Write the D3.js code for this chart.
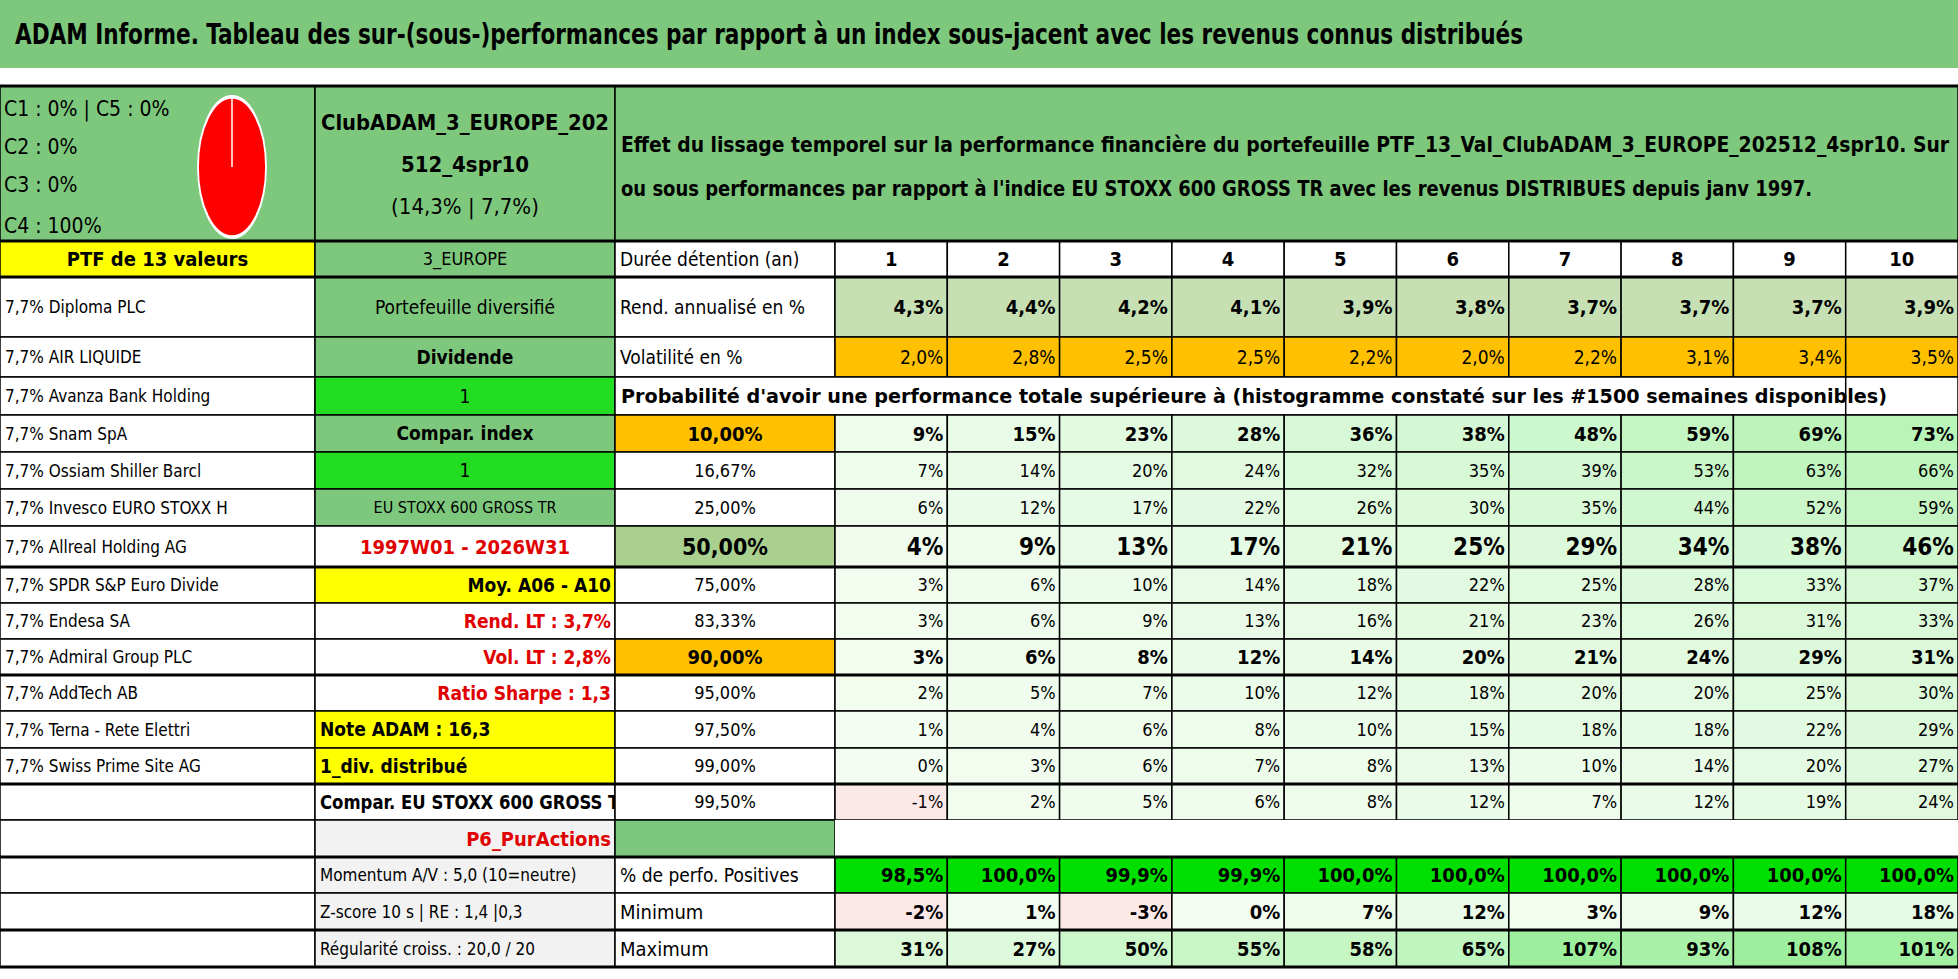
<!DOCTYPE html>
<html><head><meta charset="utf-8">
<script src="https://cdn.jsdelivr.net/npm/d3@7"></script>
<style>body{margin:0;background:#fff}svg{display:block}text{font-family:"DejaVu Sans Condensed","DejaVu Sans",sans-serif}</style>
</head><body><svg id="c" width="1958" height="979"></svg>
<script>
const title = "ADAM Informe. Tableau des sur-(sous-)performances par rapport à un index sous-jacent avec les revenus connus distribués";
const holdings = ["7,7% Diploma PLC","7,7% AIR LIQUIDE","7,7% Avanza Bank Holding","7,7% Snam SpA","7,7% Ossiam Shiller Barcl","7,7% Invesco EURO STOXX H","7,7% Allreal Holding AG","7,7% SPDR S&P Euro Divide","7,7% Endesa SA","7,7% Admiral Group PLC","7,7% AddTech AB","7,7% Terna - Rete Elettri","7,7% Swiss Prime Site AG"];
const years = [1,2,3,4,5,6,7,8,9,10];
const rendement = [4.3,4.4,4.2,4.1,3.9,3.8,3.7,3.7,3.7,3.9];
const volatilite = [2.0,2.8,2.5,2.5,2.2,2.0,2.2,3.1,3.4,3.5];
const seuils = ["10,00%","16,67%","25,00%","50,00%","75,00%","83,33%","90,00%","95,00%","97,50%","99,00%","99,50%"];
const probas = [
 [9,15,23,28,36,38,48,59,69,73],
 [7,14,20,24,32,35,39,53,63,66],
 [6,12,17,22,26,30,35,44,52,59],
 [4,9,13,17,21,25,29,34,38,46],
 [3,6,10,14,18,22,25,28,33,37],
 [3,6,9,13,16,21,23,26,31,33],
 [3,6,8,12,14,20,21,24,29,31],
 [2,5,7,10,12,18,20,20,25,30],
 [1,4,6,8,10,15,18,18,22,29],
 [0,3,6,7,8,13,10,14,20,27],
 [-1,2,5,6,8,12,7,12,19,24]];
const positives = [98.5,100,99.9,99.9,100,100,100,100,100,100];
const minimum = [-2,1,-3,0,7,12,3,9,12,18];
const maximum = [31,27,50,55,58,65,107,93,108,101];
const pieLabels = ["C1 : 0% | C5 : 0%","C2 : 0%","C3 : 0%","C4 : 100%"];
const pieValues = [0,0,0,100,0];

const svg = d3.select("#c");
const G="#7ec87e", Y="#ffff00", O="#ffc000", BG="#22dd22", GR="#f2f2f2";
const fmt1 = v => d3.format(".1f")(v).replace(".",",")+"%";
const fmt0 = v => v+"%";
const green = d3.scaleLinear().domain([0,110]).range(["#f4fdf2","#9bef9b"]);
const cellColor = v => v<0 ? "#fde8e8" : green(v);

const vx = d3.scaleBand().domain(years).range([835,1958]);
const rowB = [86,241,277,337,377,415,452,489,526,567,603,639,675,711,748,784,820,857,893,930,967];

function cell(x,y,w,h,fill,txt,opt={}){
  svg.append("rect").attr("x",x).attr("y",y).attr("width",w).attr("height",h)
    .attr("fill",fill).attr("stroke",opt.noStroke?"none":"#000").attr("stroke-width",opt.sw||1.5);
  if(txt!==undefined&&txt!==null){
    const a=opt.align||"middle";
    const tx=a==="start"?x+5:a==="end"?x+w-4:x+w/2;
    svg.append("text").attr("x",tx).attr("y",y+h/2).attr("dy","0.36em").attr("text-anchor",a)
      .attr("font-size",opt.fs||19).attr("font-weight",opt.bold?"bold":"normal")
      .attr("fill",opt.color||"#000").text(txt);
  }
}
function fitText(x,y,len,fs,bold,t){
  svg.append("text").attr("x",x).attr("y",y).attr("font-size",fs).attr("font-weight",bold?"bold":"normal")
   .attr("textLength",len).attr("lengthAdjust","spacingAndGlyphs").text(t);
}
svg.append("rect").attr("x",0).attr("y",0).attr("width",1958).attr("height",68).attr("fill",G);
fitText(15,44,1508,29,true,title);

const R=i=>rowB[i], H=i=>rowB[i+1]-rowB[i];
cell(0,R(0),315,H(0),G,null);
pieLabels.forEach((t,i)=>svg.append("text").attr("x",4).attr("y",[116,154,192,233][i]).attr("font-size",21).text(t));
const pie=d3.pie().sort(null).value(d=>d)(pieValues);
const pg=svg.append("g").attr("transform","translate(232,167) scale(1,2.06)");
pg.selectAll("path").data(pie).join("path").attr("d",d3.arc().innerRadius(0).outerRadius(34))
  .attr("fill",(d,i)=>i===3?"#ff0000":"#ccc");
pg.append("circle").attr("r",34).attr("fill","none").attr("stroke","#fff").attr("stroke-width",1.8);
pg.append("line").attr("x1",0).attr("y1",0).attr("x2",0).attr("y2",-34).attr("stroke","#fff").attr("stroke-width",1.5);
cell(315,R(0),300,H(0),G,null);
["ClubADAM_3_EUROPE_202","512_4spr10","(14,3% | 7,7%)"].forEach((t,i)=>svg.append("text").attr("x",465).attr("y",130+i*42).attr("text-anchor","middle").attr("font-size",22).attr("font-weight",i<2?"bold":"normal").attr("textLength",i===0?288:null).attr("lengthAdjust","spacingAndGlyphs").text(t));
cell(615,R(0),1343,H(0),G,null);
fitText(621,152,1328,22,true,"Effet du lissage temporel sur la performance financière du portefeuille PTF_13_Val_ClubADAM_3_EUROPE_202512_4spr10. Sur");
fitText(621,196,1191,22,true,"ou sous performances par rapport à l'indice EU STOXX 600 GROSS TR avec les revenus DISTRIBUES depuis janv 1997.");

cell(0,R(1),315,H(1),Y,"PTF de 13 valeurs",{bold:true,fs:20});
cell(315,R(1),300,H(1),G,"3_EUROPE",{fs:18});
cell(615,R(1),220,H(1),"#fff","Durée détention (an)",{align:"start",fs:19});
years.forEach(y=>cell(vx(y),R(1),vx.bandwidth(),H(1),"#fff",String(y),{bold:true,fs:20}));

holdings.forEach((h,i)=>cell(0,R(2+i),315,H(2+i),"#fff",h,{align:"start",fs:17}));
for(let r=15;r<20;r++) cell(0,R(r),315,H(r),"#fff",null);

const col1=[
 ["Portefeuille diversifié",G,"middle",false,"#000",19],
 ["Dividende",G,"middle",true,"#000",19],
 ["1",BG,"middle",false,"#000",19],
 ["Compar. index",G,"middle",true,"#000",19],
 ["1",BG,"middle",false,"#000",19],
 ["EU STOXX 600 GROSS TR",G,"middle",false,"#000",16],
 ["1997W01 - 2026W31","#fff","middle",true,"#e00000",20],
 ["Moy. A06 - A10",Y,"end",true,"#000",19],
 ["Rend. LT : 3,7%","#fff","end",true,"#e00000",19],
 ["Vol. LT : 2,8%","#fff","end",true,"#e00000",19],
 ["Ratio Sharpe : 1,3","#fff","end",true,"#e00000",19],
 ["Note ADAM : 16,3",Y,"start",true,"#000",19],
 ["1_div. distribué",Y,"start",true,"#000",19],
 ["Compar. EU STOXX 600 GROSS TR","#fff","start",true,"#000",19],
 ["P6_PurActions",GR,"end",true,"#e00000",20],
 ["Momentum A/V : 5,0 (10=neutre)",GR,"start",false,"#000",17],
 ["Z-score 10 s | RE : 1,4 |0,3",GR,"start",false,"#000",17],
 ["Régularité croiss. : 20,0 / 20",GR,"start",false,"#000",17]];
svg.append("clipPath").attr("id","cl1").append("rect").attr("x",315).attr("y",0).attr("width",300).attr("height",979);
col1.forEach((c,i)=>{
  const r=2+i;
  svg.append("rect").attr("x",315).attr("y",R(r)).attr("width",300).attr("height",H(r)).attr("fill",c[1]).attr("stroke","#000").attr("stroke-width",1.5);
  const tx=c[2]==="start"?320:c[2]==="end"?611:465;
  const t=svg.append("text").attr("clip-path","url(#cl1)").attr("x",tx).attr("y",R(r)+H(r)/2).attr("dy","0.36em").attr("text-anchor",c[2])
   .attr("font-size",c[5]).attr("font-weight",c[3]?"bold":"normal").attr("fill",c[4]).text(c[0]);
  if(i===13) t.attr("textLength",312).attr("lengthAdjust","spacingAndGlyphs");
});

cell(615,R(2),220,H(2),"#fff","Rend. annualisé en %",{align:"start"});
rendement.forEach((v,i)=>cell(vx(years[i]),R(2),vx.bandwidth(),H(2),"#c6e0b4",fmt1(v),{align:"end",bold:true,fs:20}));
cell(615,R(3),220,H(3),"#fff","Volatilité en %",{align:"start"});
volatilite.forEach((v,i)=>cell(vx(years[i]),R(3),vx.bandwidth(),H(3),O,fmt1(v),{align:"end",fs:19}));
cell(615,R(4),1343,H(4),"#fff",null);
fitText(621,R(4)+H(4)/2+7,1266,19,true,"Probabilité d'avoir une performance totale supérieure à (histogramme constaté sur les #1500 semaines disponibles)");
svg.append("line").attr("x1",vx(10)).attr("x2",vx(10)).attr("y1",R(4)).attr("y2",R(5)).attr("stroke","#000").attr("stroke-width",1.5);
const boldRows=[0,3,6];
seuils.forEach((s,k)=>{
  const r=5+k, b=boldRows.includes(k), big=k===3;
  const f=k===0||k===6?O:big?"#a9d08e":"#fff";
  cell(615,R(r),220,H(r),f,s,{bold:b,fs:big?23:b?20:18});
  probas[k].forEach((v,i)=>cell(vx(years[i]),R(r),vx.bandwidth(),H(r),cellColor(v),fmt0(v),{align:"end",bold:b,fs:big?24:b?20:18}));
});
cell(615,R(16),220,H(16),G,null);
cell(835,R(16),1123,H(16),"#fff",null,{noStroke:true});
cell(615,R(17),220,H(17),"#fff","% de perfo. Positives",{align:"start"});
positives.forEach((v,i)=>cell(vx(years[i]),R(17),vx.bandwidth(),H(17),"#00e000",fmt1(v),{align:"end",bold:true,fs:20}));
cell(615,R(18),220,H(18),"#fff","Minimum",{align:"start",fs:20});
minimum.forEach((v,i)=>cell(vx(years[i]),R(18),vx.bandwidth(),H(18),cellColor(v),fmt0(v),{align:"end",bold:true,fs:20}));
cell(615,R(19),220,H(19),"#fff","Maximum",{align:"start",fs:20});
maximum.forEach((v,i)=>cell(vx(years[i]),R(19),vx.bandwidth(),H(19),cellColor(v),fmt0(v),{align:"end",bold:true,fs:20}));
[86,241,277,567,675,784,857,930,967].forEach(y=>svg.append("line").attr("x1",0).attr("x2",1958).attr("y1",y).attr("y2",y).attr("stroke","#000").attr("stroke-width",3));
</script></body></html>
